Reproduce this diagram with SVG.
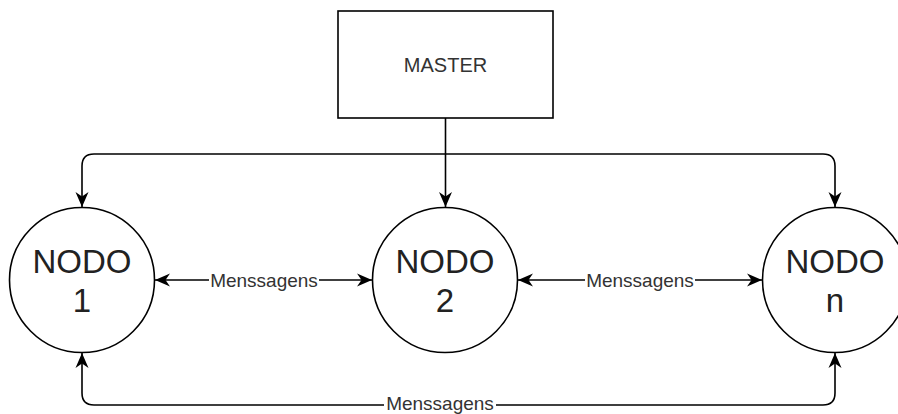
<svg xmlns="http://www.w3.org/2000/svg" width="898" height="414" viewBox="0 0 898 414">
  <style>
    .edge { fill: none; stroke: #000; stroke-width: 1.6; }
    .shape { fill: #fff; stroke: #000; stroke-width: 1.6; }
    .node-text { font-family: "Liberation Sans", Arial, sans-serif; font-size: 33px; fill: #222; text-anchor: middle; }
    .master-text { font-family: "Liberation Sans", Arial, sans-serif; font-size: 20px; fill: #333; text-anchor: middle; }
    .label { font-family: "Liberation Sans", Arial, sans-serif; font-size: 19px; fill: #333; text-anchor: middle; }
    .label-bg { fill: #fff; }
  </style>
  <defs>
    <marker id="arrow" viewBox="0 0 16 14" refX="15" refY="7" markerWidth="16" markerHeight="14" markerUnits="userSpaceOnUse" orient="auto-start-reverse">
      <path d="M15,7 L0,0.5 L4.5,7 L0,13.5 Z" fill="#000"/>
    </marker>
  </defs>

  <!-- connectors -->
  <g id="connectors">
    <!-- master to node 2 -->
    <path class="edge" d="M445.5,118 V207" marker-end="url(#arrow)"/>
    <!-- master to node 1 -->
    <path class="edge" d="M445.5,154 H94 Q82,154 82,166 V207" marker-end="url(#arrow)"/>
    <!-- master to node n -->
    <path class="edge" d="M445.5,154 H823 Q835,154 835,166 V207" marker-end="url(#arrow)"/>
    <!-- node 1 <-> node 2 -->
    <path class="edge" d="M155,280 H372" marker-start="url(#arrow)" marker-end="url(#arrow)"/>
    <!-- node 2 <-> node n -->
    <path class="edge" d="M518,280 H762" marker-start="url(#arrow)" marker-end="url(#arrow)"/>
    <!-- node 1 <-> node n (bottom) -->
    <path class="edge" d="M82,353 V393 Q82,405 94,405 H823 Q835,405 835,393 V353" marker-start="url(#arrow)" marker-end="url(#arrow)"/>

    <!-- edge labels -->
    <rect class="label-bg" x="209" y="270" width="110" height="20"/>
    <text class="label" x="264" y="286.5">Menssagens</text>
    <rect class="label-bg" x="585" y="270" width="110" height="20"/>
    <text class="label" x="640" y="286.5">Menssagens</text>
    <rect class="label-bg" x="384" y="396" width="112" height="18"/>
    <text class="label" x="440" y="410">Menssagens</text>
  </g>

  <!-- master -->
  <g id="master">
    <rect class="shape" x="338" y="11" width="215" height="107"/>
    <text class="master-text" x="445.5" y="72">MASTER</text>
  </g>

  <!-- node 1 -->
  <g id="node1">
    <circle class="shape" cx="82" cy="280" r="72.5"/>
    <text class="node-text" x="82" y="273">NODO</text>
    <text class="node-text" x="82" y="312">1</text>
  </g>

  <!-- node 2 -->
  <g id="node2">
    <circle class="shape" cx="445" cy="280" r="72.5"/>
    <text class="node-text" x="445" y="273">NODO</text>
    <text class="node-text" x="445" y="312">2</text>
  </g>

  <!-- node n -->
  <g id="noden">
    <circle class="shape" cx="835" cy="280" r="72.5"/>
    <text class="node-text" x="835" y="273">NODO</text>
    <text class="node-text" x="835" y="312">n</text>
  </g>
</svg>
